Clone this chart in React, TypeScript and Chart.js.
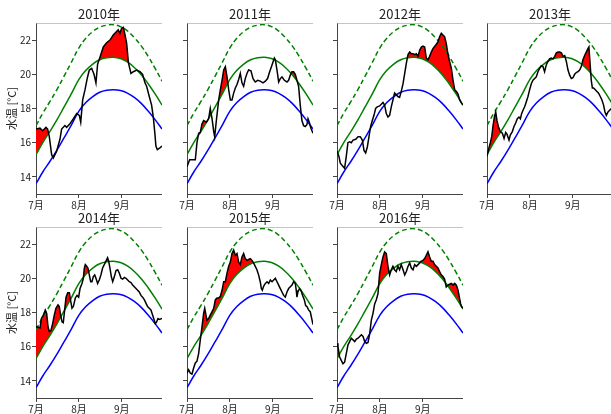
import React, { useEffect, useRef } from "react";
import { Chart, registerables } from "chart.js";

Chart.register(...registerables);

const FONT = '"Noto Sans CJK JP", "DejaVu Sans", sans-serif';

// x axis: day index from 1 July (0) to 30 September (91)
const X_MIN = 0;
const X_MAX = 91;
const X_TICK_DAYS = [0, 31, 62];
const X_TICK_LABELS = ["7月", "8月", "9月"];
const Y_MIN = 13;
const Y_MAX = 23;
const Y_TICKS = [14, 16, 18, 20, 22];
const Y_TITLE = "水温 [°C]";

// climatology (same in every panel)
const DAYS_CLIM = [0, 5, 10, 15, 20, 25, 31, 36, 41, 46, 51, 56, 61, 66, 71, 76, 81, 86, 91];
const CLIM_MEAN = [13.6, 14.3, 14.9, 15.55, 16.25, 16.95, 17.85, 18.35, 18.7, 18.95, 19.07, 19.1, 19.05, 18.9, 18.65, 18.3, 17.85, 17.35, 16.8];
const CLIM_1SD = [15.3, 16.02, 16.65, 17.32, 18.05, 18.78, 19.7, 20.23, 20.6, 20.85, 20.97, 21.0, 20.92, 20.72, 20.4, 19.98, 19.45, 18.85, 18.2];
const CLIM_2SD = [17.0, 17.74, 18.4, 19.09, 19.85, 20.61, 21.55, 22.11, 22.5, 22.75, 22.87, 22.9, 22.79, 22.54, 22.15, 21.66, 21.05, 20.35, 19.6];

// observed water temperature [day, °C]
const T2010: [number, number][] = [[0,16.8],[2.9,16.85],[4.8,16.7],[7.2,16.9],[8.4,16.8],[9.6,16.35],[11.3,15.3],[12.5,15.1],[14.9,15.5],[17.3,16.2],[18.5,16.8],[20.9,17.0],[22.1,16.9],[24.5,17.1],[27,17.4],[29.4,17.7],[31.3,17.6],[32.3,17.2],[33.7,18.5],[35.4,19.1],[37.1,19.8],[38.5,20.25],[40.2,20.35],[41.9,20.0],[43.3,19.5],[44.5,20.6],[46.2,21.0],[48.6,21.6],[51,21.85],[53.4,22.0],[55.8,22.3],[58.2,22.5],[59.4,22.6],[60.6,22.4],[61.9,22.7],[63.1,22.75],[64.3,22.3],[65.5,21.8],[66.7,20.7],[68.6,20.05],[70.3,20.15],[72.7,20.25],[75.1,20.15],[77,20.0],[78.7,19.5],[79.9,19.3],[81.8,18.7],[83.5,18.2],[84.7,17.5],[85.9,16.5],[86.6,15.8],[87.6,15.6],[89.5,15.7],[91,15.8]];
const T2011: [number, number][] = [[0,14.6],[1.9,15.0],[6,15.0],[7.2,16.0],[8.4,16.55],[9.6,16.6],[10.8,17.1],[12,17.3],[14,17.2],[15.6,17.4],[16.8,18.0],[18.1,17.4],[19.3,16.65],[20,16.35],[21.2,17.3],[22.9,18.5],[24.1,19.1],[25.3,19.65],[26.5,20.25],[27.7,20.45],[28.9,19.85],[30.1,19.1],[31.3,18.5],[32.5,18.5],[33.7,18.9],[34.9,19.2],[36.1,19.4],[37.3,19.7],[38.5,20.05],[39.7,19.5],[40.9,19.3],[42.1,19.75],[43.3,20.05],[44.5,20.25],[46.2,20.2],[47.7,19.75],[49.3,19.55],[51,19.65],[52.9,19.6],[54.9,19.5],[56.6,19.6],[58.2,19.75],[59.7,20.15],[61.4,20.55],[63.1,20.95],[63.8,20.85],[65,20.25],[66.2,19.55],[67.4,19.75],[68.6,19.85],[70.3,19.65],[72.2,19.55],[73.4,19.65],[74.6,19.95],[75.8,20.15],[77,20.15],[78.2,20.0],[79.4,19.65],[80.6,19.3],[81.8,18.2],[83,17.3],[84.2,17.0],[85.4,16.95],[86.6,17.05],[87.4,17.4],[88.3,17.2],[89.5,16.85],[91,16.55]];
const T2012: [number, number][] = [[0,15.5],[1.4,15.2],[2.4,14.8],[3.9,14.65],[5.5,14.5],[6.7,15.2],[7.9,16.0],[9.1,16.05],[10.3,16.0],[11.6,16.15],[13.5,16.2],[15.2,16.35],[16.8,16.35],[18.3,16.15],[19.5,15.55],[20.7,15.4],[21.9,15.75],[23.1,16.35],[24.3,16.95],[25.5,17.3],[26.7,17.6],[27.9,18.0],[29.1,18.1],[30.8,18.15],[32,18.25],[33.2,18.35],[34.4,18.2],[35.6,17.7],[36.8,17.5],[38,17.6],[39.2,18.1],[40.4,18.5],[41.6,18.9],[42.8,18.8],[44,18.7],[45.2,18.65],[46.4,19.0],[47.7,19.45],[48.9,20.05],[50.1,20.65],[51.3,21.15],[52.5,21.3],[53.7,21.2],[54.9,21.2],[56.1,21.15],[57.3,21.2],[58.5,21.05],[59.7,21.4],[60.9,21.6],[62.1,21.65],[63.3,21.6],[64.5,20.95],[65.7,20.85],[66.9,21.05],[68.1,21.3],[69.3,21.5],[71.2,21.7],[72.9,21.9],[74.1,22.2],[75.3,22.4],[76.5,22.3],[77.7,22.2],[78.9,21.8],[80.1,21.2],[81.3,20.75],[82.6,20.35],[83.8,19.65],[85,19.1],[86.2,19.0],[87.4,18.85],[88.6,18.5],[90,18.3],[91,18.2]];
const T2013: [number, number][] = [[0,15.2],[1.4,15.7],[2.4,16.0],[3.4,16.35],[4.3,16.95],[5.3,17.5],[6.3,17.8],[7.2,17.3],[8.2,16.95],[9.6,16.65],[11.1,16.55],[12.3,16.25],[13.5,16.6],[14.4,16.5],[15.9,16.15],[16.8,16.45],[18.3,16.65],[19.5,16.95],[20.7,17.15],[21.9,17.4],[23.1,17.5],[24.1,17.4],[25,17.7],[26,17.9],[27.2,18.1],[28.4,18.4],[29.6,18.7],[30.8,19.1],[32,19.45],[33.2,19.65],[34.4,19.75],[35.6,19.85],[36.8,20.15],[38,20.35],[39.2,20.5],[40.4,20.45],[41.6,20.15],[42.8,20.55],[44,20.75],[45.2,20.9],[46.4,20.95],[47.7,20.9],[48.9,21.05],[50.1,21.25],[51.3,21.3],[52.5,21.3],[53.7,21.25],[54.9,21.05],[56.1,21.1],[57.3,20.75],[58.5,20.25],[59.7,19.95],[60.9,19.75],[62.1,19.8],[63.3,20.0],[64.5,20.1],[65.7,20.15],[66.9,20.25],[68.1,20.45],[69.3,20.85],[70.5,21.1],[71.7,21.3],[72.9,21.5],[73.6,21.6],[74.6,20.45],[75.3,19.65],[76.1,19.2],[77,19.2],[78.2,19.1],[79.4,19.0],[80.6,18.9],[81.8,18.7],[83,18.5],[84.2,18.2],[85.2,17.8],[86.2,17.6],[87.4,17.8],[88.6,17.9],[91,18.1]];
const T2014: [number, number][] = [[0,17.15],[1.2,17.15],[2.9,17.1],[3.9,17.65],[5.3,17.85],[6.7,18.15],[7.7,17.95],[8.7,17.15],[9.6,16.9],[10.8,16.95],[12,17.35],[13.2,17.85],[14.4,18.25],[15.9,18.45],[16.8,18.35],[17.8,17.85],[18.8,17.45],[19.7,17.4],[20.7,18.15],[21.7,18.9],[22.9,19.15],[24.1,19.15],[25,18.7],[26,18.25],[27,18.35],[28.4,18.85],[29.6,19.0],[30.8,18.9],[31.8,19.4],[33.2,19.7],[34.2,20.0],[34.9,20.6],[35.6,20.8],[36.6,20.7],[37.5,20.6],[38.5,20.2],[39.5,19.8],[40.4,19.8],[41.4,20.1],[42.4,20.2],[43.3,20.0],[44.5,19.7],[45.7,19.9],[46.9,20.2],[48.1,20.6],[49.3,20.8],[50.5,21.0],[51.7,21.2],[52.5,21.0],[53.4,20.6],[54.4,20.1],[55.4,19.8],[56.6,20.1],[57.8,20.45],[59,20.5],[60.2,20.3],[61.4,20.0],[62.6,19.95],[63.8,20.05],[65,20.0],[66.2,19.9],[67.4,19.8],[68.6,19.75],[69.8,19.6],[71,19.5],[72.2,19.4],[73.4,19.3],[74.6,19.2],[75.8,19.0],[77,18.9],[78.2,18.75],[79.4,18.55],[80.6,18.35],[81.8,18.25],[83,18.15],[84.2,17.85],[85.4,17.55],[86.2,17.35],[87.1,17.45],[88.1,17.65],[89.1,17.6],[91,17.65]];
const T2015: [number, number][] = [[0,14.45],[1.2,14.65],[2.4,14.45],[3.6,14.4],[4.8,14.75],[6,15.05],[7.2,15.15],[8.4,15.6],[9.6,16.4],[10.8,17.15],[12,17.95],[12.8,18.25],[13.7,17.85],[14.4,17.55],[15.6,17.65],[16.8,17.85],[18.1,18.05],[19.3,18.25],[20.5,18.75],[21.7,18.85],[22.9,18.85],[24.1,18.95],[25.3,19.3],[26.5,19.8],[27.7,19.8],[28.9,20.3],[30.1,20.7],[31.3,20.95],[32.5,21.45],[33.7,21.65],[34.9,21.35],[36.1,21.45],[37.3,20.95],[38.5,20.8],[39.7,21.25],[40.9,21.45],[42.1,21.15],[43.3,21.05],[44.5,21.1],[45.7,21.15],[46.9,21.05],[48.1,20.9],[49.3,20.7],[50.5,20.5],[51.7,20.2],[52.9,19.8],[53.7,19.4],[54.4,19.3],[55.4,19.55],[56.6,19.7],[57.8,19.8],[59,19.7],[60.2,19.9],[61.4,19.8],[62.6,19.9],[63.8,20.0],[65,19.8],[66.2,19.6],[67.4,19.4],[68.6,19.2],[69.8,19.0],[71,18.9],[72.2,19.2],[73.4,19.4],[74.6,19.5],[75.8,19.6],[77,19.8],[78.2,19.7],[78.9,19.3],[79.4,18.9],[80.1,19.2],[81.3,19.4],[82.3,19.3],[83.5,19.0],[84.7,18.75],[85.7,18.4],[86.6,18.35],[87.8,18.15],[89,18.05],[89.8,17.75],[91,17.3]];
const T2016: [number, number][] = [[0,16.2],[0.7,16.0],[1.9,15.4],[3.1,15.2],[4.3,15.0],[5.5,15.1],[6.7,15.6],[7.9,16.1],[9.1,16.3],[10.3,16.5],[11.6,16.4],[12.8,16.3],[14,16.45],[15.2,16.5],[16.4,16.6],[17.6,16.7],[18.8,16.6],[20,16.3],[21.2,16.2],[22.4,16.25],[23.6,16.75],[24.8,17.55],[26,17.95],[27.2,18.5],[28.4,18.75],[29.6,19.1],[30.8,20.3],[32,20.8],[33.2,21.25],[34.4,21.55],[35.6,21.45],[36.8,20.7],[38,20.2],[39.2,20.5],[40.4,20.7],[41.6,20.5],[42.8,20.4],[44,20.7],[45.2,20.5],[46.4,20.8],[47.7,20.5],[48.9,20.2],[50.1,20.4],[51.3,20.7],[52.5,20.9],[53.7,20.6],[54.9,20.5],[56.1,20.8],[57.3,20.7],[58.5,20.8],[59.7,20.9],[60.9,21.0],[62.1,21.05],[63.3,21.15],[64.5,21.35],[65.7,21.55],[66.9,21.25],[68.1,21.0],[69.3,21.0],[70.5,20.8],[71.7,20.7],[72.9,20.6],[74.1,20.4],[75.3,20.2],[76.5,20.1],[77.7,19.95],[78.9,19.5],[80.1,19.6],[81.3,19.65],[82.6,19.7],[83.8,19.6],[85,19.7],[86.2,19.6],[87.4,19.3],[88.6,18.8],[89.3,18.5],[90,18.35],[91,18.25]];

const YEARS = ["2010年", "2011年", "2012年", "2013年", "2014年", "2015年", "2016年"];
const SERIES = [T2010, T2011, T2012, T2013, T2014, T2015, T2016];

// layout (pixels)
const PLOT_LEFTS = [36, 187, 337, 487];
const PLOT_TOPS = [23, 227];
const AXIS_W = 36;
const PLOT_W = 126;
const TITLE_H = 23;
const PLOT_H = 171;
const XAXIS_H = 20;

const spinePlugin = {
  id: "spines",
  afterDraw(chart: any) {
    const { ctx, chartArea } = chart;
    const { left, top, right, bottom } = chartArea;
    ctx.save();
    ctx.strokeStyle = "#c4c4c4";
    ctx.lineWidth = 1;
    ctx.beginPath();
    ctx.moveTo(Math.round(left) + 0.5, Math.round(top) + 0.5);
    ctx.lineTo(Math.round(right) + 0.5, Math.round(top) + 0.5);
    ctx.lineTo(Math.round(right) + 0.5, Math.round(bottom) + 0.5);
    ctx.stroke();
    ctx.restore();
  },
};

function clim(values: number[]) {
  return DAYS_CLIM.map((x, i) => ({ x, y: values[i] }));
}

function Panel({ title, series, left, top, showY }: { title: string; series: [number, number][]; left: number; top: number; showY: boolean }) {
  const ref = useRef<HTMLCanvasElement>(null);
  useEffect(() => {
    const chart = new Chart(ref.current as HTMLCanvasElement, {
      type: "line",
      data: {
        datasets: [
          {
            data: series.map(([x, y]) => ({ x, y })),
            borderColor: "#000000",
            borderWidth: 1.5,
            pointRadius: 0,
            tension: 0,
            fill: { target: 1, above: "#ff0000", below: "rgba(0,0,0,0)" },
          },
          { data: clim(CLIM_1SD), borderColor: "#008000", borderWidth: 1.5, pointRadius: 0, tension: 0.4, fill: false },
          { data: clim(CLIM_2SD), borderColor: "#008000", borderWidth: 1.5, borderDash: [5, 3], pointRadius: 0, tension: 0.4, fill: false },
          { data: clim(CLIM_MEAN), borderColor: "#0000ff", borderWidth: 1.5, pointRadius: 0, tension: 0.4, fill: false },
        ],
      } as any,
      options: {
        responsive: false,
        animation: false,
        events: [],
        layout: { padding: 0 },
        plugins: {
          legend: { display: false },
          tooltip: { enabled: false },
          filler: { drawTime: "beforeDatasetsDraw" },
          title: {
            display: true,
            text: title,
            fullSize: false,
            color: "#222",
            font: { family: FONT, size: 13, weight: "normal" },
            padding: { top: 6, bottom: 1.4 },
          },
        },
        scales: {
          x: {
            type: "linear",
            min: X_MIN,
            max: X_MAX,
            afterBuildTicks: (s: any) => {
              s.ticks = X_TICK_DAYS.map((v) => ({ value: v }));
            },
            afterFit: (s: any) => {
              s.height = XAXIS_H;
            },
            ticks: {
              autoSkip: false,
              maxRotation: 0,
              padding: 1,
              color: "#222",
              font: { family: FONT, size: 10 },
              callback: (v: any) => {
                const i = X_TICK_DAYS.indexOf(Number(v));
                return i >= 0 ? X_TICK_LABELS[i] : "";
              },
            },
            grid: { drawOnChartArea: false, drawTicks: true, tickLength: 4, color: "#444" },
            border: { display: true, color: "#444", width: 1 },
          },
          y: {
            type: "linear",
            min: Y_MIN,
            max: Y_MAX,
            afterBuildTicks: (s: any) => {
              s.ticks = Y_TICKS.map((v) => ({ value: v }));
            },
            afterFit: (s: any) => {
              s.width = AXIS_W;
            },
            ticks: {
              padding: 1,
              color: "#222",
              font: { family: FONT, size: 10 },
              callback: (v: any) => (showY ? String(v) : ""),
            },
            grid: { drawOnChartArea: false, drawTicks: true, tickLength: 4, color: "#444" },
            border: { display: true, color: "#444", width: 1 },
            title: {
              display: showY,
              text: Y_TITLE,
              color: "#222",
              font: { family: FONT, size: 11 },
              padding: { top: 5, bottom: 0 },
            },
          },
        },
      } as any,
      plugins: [spinePlugin],
    });
    return () => chart.destroy();
  }, []);
  return (
    <canvas
      ref={ref}
      width={AXIS_W + PLOT_W}
      height={TITLE_H + PLOT_H + XAXIS_H}
      style={{ position: "absolute", left: left - AXIS_W, top: top - TITLE_H, width: AXIS_W + PLOT_W, height: TITLE_H + PLOT_H + XAXIS_H }}
    />
  );
}

export default function App() {
  return (
    <div style={{ position: "fixed", left: 0, top: 0, width: 611, height: 414, overflow: "hidden", background: "#ffffff" }}>
      {YEARS.map((title, i) => {
        const col = i % 4;
        const row = Math.floor(i / 4);
        return (
          <Panel
            key={title}
            title={title}
            series={SERIES[i]}
            left={PLOT_LEFTS[col]}
            top={PLOT_TOPS[row]}
            showY={col === 0}
          />
        );
      })}
    </div>
  );
}
